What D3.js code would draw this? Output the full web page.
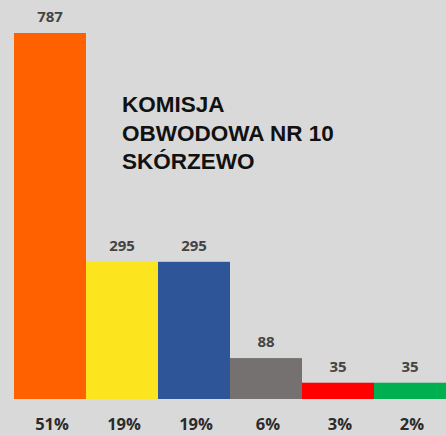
<!DOCTYPE html>
<html>
<head>
<meta charset="utf-8">
<script src="https://cdn.jsdelivr.net/npm/d3@7"></script>
<style>
  html, body { margin: 0; padding: 0; background: #d9d9d9; }
  svg { display: block; }
</style>
</head>
<body>
<script>
// dane
var categories = ["A", "B", "C", "D", "E", "F"];
var votes = [787, 295, 295, 88, 35, 35];
var percents = ["51%", "19%", "19%", "6%", "3%", "2%"];
var colors = ["#ff6000", "#fce41e", "#2e5597", "#767171", "#fe0000", "#00b050"];
var titleLines = ["KOMISJA", "OBWODOWA NR 10", "SKÓRZEWO"];

var width = 446, height = 436;
var plotLeft = 14, plotRight = 446, plotTop = 33, baseline = 399;

var canvas = d3.select("body").append("svg")
  .attr("width", width)
  .attr("height", height);

canvas.append("rect")
  .attr("width", width).attr("height", height)
  .attr("fill", "#d9d9d9");

// skalor
var xScale = d3.scaleBand().domain(categories).range([plotLeft, plotRight]).padding(0);
var yScale = d3.scaleLinear().domain([0, d3.max(votes)]).range([baseline, plotTop]);

// staplar
canvas.selectAll(".bar").data(votes).enter()
  .append("rect")
  .attr("class", "bar")
  .attr("x", function(d, i){ return xScale(categories[i]); })
  .attr("width", xScale.bandwidth())
  .attr("y", function(d){ return yScale(d); })
  .attr("height", function(d){ return baseline - yScale(d); })
  .attr("fill", function(d, i){ return colors[i]; });

// värden ovanför
canvas.selectAll(".val").data(votes).enter()
  .append("text")
  .attr("class", "val")
  .attr("x", function(d, i){ return xScale(categories[i]) + xScale.bandwidth() / 2; })
  .attr("y", function(d){ return yScale(d) - 11; })
  .attr("text-anchor", "middle")
  .attr("font-family", "'Open Sans', sans-serif")
  .attr("font-weight", 700)
  .attr("font-size", 15)
  .attr("fill", "#444")
  .text(function(d){ return d; });

// procent under
canvas.selectAll(".pct").data(percents).enter()
  .append("text")
  .attr("class", "pct")
  .attr("x", function(d, i){ return xScale(categories[i]) + xScale.bandwidth() / 2 + 2; })
  .attr("y", 430)
  .attr("text-anchor", "middle")
  .attr("font-family", "'Open Sans', sans-serif")
  .attr("font-weight", 700)
  .attr("font-size", 16.5)
  .attr("fill", "#2b2b2b")
  .text(function(d){ return d; });

// rubrik
canvas.selectAll(".title").data(titleLines).enter()
  .append("text")
  .attr("class", "title")
  .attr("x", 122)
  .attr("y", function(d, i){ return 112 + i * 28.6; })
  .attr("font-family", "'Liberation Sans', Arial, sans-serif")
  .attr("font-weight", 700)
  .attr("font-size", 22.5)
  .attr("fill", "#111")
  .text(function(d){ return d; });
</script>
</body>
</html>
